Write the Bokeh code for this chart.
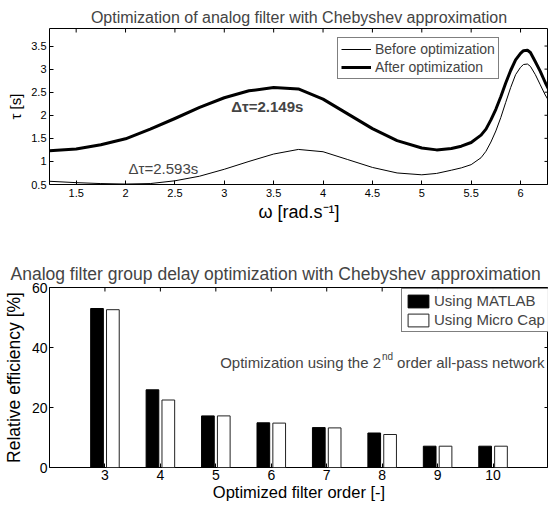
import math
from bokeh.plotting import figure
from bokeh.layouts import column
from bokeh.models import (FixedTicker, Range1d, Label,
                          ColumnDataSource, NumeralTickFormatter)
from bokeh.transform import dodge
from bokeh.embed import file_html
from bokeh.resources import INLINE

FONT = "Liberation Sans"

# ---------------- top chart data ----------------
omega = [1.23, 1.5, 1.75, 2.0, 2.25, 2.5, 2.75, 3.0, 3.25, 3.5, 3.75, 4.0,
         4.25, 4.5, 4.75, 5.0, 5.15, 5.3, 5.4, 5.5, 5.6, 5.65, 5.7, 5.75,
         5.8, 5.85, 5.9, 5.95, 6.0, 6.03, 6.07, 6.1, 6.15, 6.2, 6.25, 6.2832]
tau_before = [0.57, 0.54, 0.52, 0.51, 0.52, 0.58, 0.68, 0.83, 1.00, 1.16,
              1.26, 1.21, 1.04, 0.87, 0.75, 0.71, 0.74, 0.81, 0.86, 0.93,
              1.08, 1.22, 1.42, 1.66, 1.95, 2.28, 2.60, 2.88, 3.04, 3.10,
              3.11, 3.06, 2.88, 2.66, 2.44, 2.32]
tau_after = [1.23, 1.27, 1.36, 1.49, 1.70, 1.93, 2.17, 2.38, 2.53, 2.60,
             2.57, 2.35, 2.03, 1.71, 1.45, 1.29, 1.25, 1.28, 1.33, 1.41,
             1.57, 1.70, 1.90, 2.13, 2.40, 2.70, 2.97, 3.20, 3.34, 3.40,
             3.41, 3.36, 3.16, 2.95, 2.71, 2.57]
top_xrange = (1.23, 6.2832)
top_yrange = (0.5, 3.88)
top_xticks = [1.5, 2, 2.5, 3, 3.5, 4, 4.5, 5, 5.5, 6]
top_yticks = [0.5, 1, 1.5, 2, 2.5, 3, 3.5]

# ---------------- bottom chart data ----------------
orders = [3, 4, 5, 6, 7, 8, 9, 10]
eff_matlab = [53.0, 25.9, 17.2, 14.9, 13.3, 11.5, 7.1, 7.1]
eff_microcap = [52.6, 22.5, 17.2, 14.8, 13.2, 11.0, 7.1, 7.1]
bottom_xrange = (2, 11)
bottom_yrange = (0, 60)
bottom_yticks = [0, 20, 40, 60]


def style_main_axis(ax, tick_size, tick_standoff, label_size, standoff):
    ax.major_tick_in = 4
    ax.major_tick_out = 0
    ax.minor_tick_line_color = None
    ax.axis_line_color = None
    ax.major_tick_line_color = "black"
    ax.major_label_text_font = FONT
    ax.major_label_text_font_size = tick_size
    ax.major_label_text_color = "black"
    ax.major_label_standoff = tick_standoff
    ax.axis_label_text_font = FONT
    ax.axis_label_text_font_size = label_size
    ax.axis_label_text_font_style = "normal"
    ax.axis_label_text_color = "black"
    ax.axis_label_standoff = standoff


def add_box_ticks(p, xticks, yticks, xr, yr):
    # inward ticks on the top and right edges of the box
    p.ray(x=xticks, y=[yr[1]] * len(xticks), length=4, length_units="screen",
          angle=-math.pi / 2, line_color="black", line_width=1)
    p.ray(x=[xr[1]] * len(yticks), y=yticks, length=4, length_units="screen",
          angle=math.pi, line_color="black", line_width=1)


# ================= top figure =================
p1 = figure(width=548, height=256, x_range=Range1d(*top_xrange),
            y_range=Range1d(*top_yrange), output_backend="svg",
            toolbar_location=None, min_border_left=48, min_border_right=0,
            min_border_top=28, min_border_bottom=72)
p1.grid.grid_line_color = None
p1.outline_line_color = "black"
p1.outline_line_alpha = 1
p1.title.text = "Optimization of analog filter with Chebyshev approximation"
p1.title.text_font = FONT
p1.title.text_font_size = "16px"
p1.title.text_font_style = "normal"
p1.title.align = "center"
p1.title.standoff = 5

p1.line(omega, tau_before, line_color="black", line_width=1,
        legend_label="Before optimization")
p1.line(omega, tau_after, line_color="black", line_width=3,
        line_join="round", legend_label="After optimization")

p1.xaxis.ticker = FixedTicker(ticks=top_xticks)
p1.yaxis.ticker = FixedTicker(ticks=top_yticks)
p1.xaxis.formatter = NumeralTickFormatter(format="0.[0]")
p1.yaxis.formatter = NumeralTickFormatter(format="0.[0]")
p1.xaxis.axis_label = "ω [rad.s⁻¹]"
p1.yaxis.axis_label = "τ [s]"
style_main_axis(p1.xaxis[0], "11px", 4, "18px", 2)
style_main_axis(p1.yaxis[0], "11px", 3, "15px", 4)
add_box_ticks(p1, top_xticks, top_yticks, top_xrange, top_yrange)

p1.add_layout(Label(x=3.07, y=2.2, text="Δτ=2.149s", text_font=FONT,
                    text_font_size="15px", text_font_style="bold",
                    text_baseline="middle"))
p1.add_layout(Label(x=2.03, y=0.85, text="Δτ=2.593s", text_font=FONT,
                    text_font_size="15px", text_baseline="middle"))

lg1 = p1.legend[0]
lg1.location = (288, 105)
lg1.label_text_font = FONT
lg1.label_text_font_size = "14px"
lg1.label_standoff = 4
lg1.glyph_width = 30
lg1.glyph_height = 16
lg1.label_height = 16
lg1.spacing = 2
lg1.padding = 3
lg1.margin = 0
lg1.border_line_color = "black"
lg1.border_line_width = 1
lg1.background_fill_alpha = 1

# ================= bottom figure =================
p2 = figure(width=548, height=249, x_range=Range1d(*bottom_xrange),
            y_range=Range1d(*bottom_yrange), output_backend="svg",
            toolbar_location=None, min_border_left=48, min_border_right=0,
            min_border_top=31, min_border_bottom=38)
p2.grid.grid_line_color = None
p2.outline_line_color = "black"
p2.title.text = "Analog filter group delay optimization with Chebyshev approximation"
p2.title.text_font = FONT
p2.title.text_font_size = "17.5px"
p2.title.text_font_style = "normal"
p2.title.align = "left"
p2.title.offset = -39
p2.title.standoff = 7

src = ColumnDataSource(dict(order=orders, matlab=eff_matlab,
                            microcap=eff_microcap))
p2.vbar(x=dodge("order", -0.143), top="matlab", width=0.229, bottom=0,
        fill_color="black", line_color="black", source=src,
        legend_label="Using MATLAB")
p2.vbar(x=dodge("order", 0.143), top="microcap", width=0.229, bottom=0,
        fill_color="white", line_color="#222222", source=src,
        legend_label="Using Micro Cap")

p2.xaxis.ticker = FixedTicker(ticks=orders)
p2.yaxis.ticker = FixedTicker(ticks=bottom_yticks)
p2.xaxis.axis_label = "Optimized filter order [-]"
p2.yaxis.axis_label = "Relative efficiency [%]"
style_main_axis(p2.xaxis[0], "14px", 2, "16.5px", 0)
style_main_axis(p2.yaxis[0], "14px", 2, "17.5px", 5)
add_box_ticks(p2, orders, bottom_yticks, bottom_xrange, bottom_yrange)

note_x = 7.98
note_y = 35.1
p2.add_layout(Label(x=note_x, y=note_y, text="Optimization using the 2",
                    text_font=FONT, text_font_size="15px",
                    text_align="right", text_baseline="middle"))
p2.add_layout(Label(x=note_x, y=note_y, y_offset=6, x_offset=1, text="nd",
                    text_font=FONT, text_font_size="10px",
                    text_align="left", text_baseline="middle"))
p2.add_layout(Label(x=note_x, y=note_y, x_offset=16,
                    text="order all-pass network",
                    text_font=FONT, text_font_size="15px",
                    text_align="left", text_baseline="middle"))

lg2 = p2.legend[0]
lg2.location = (352, 135)
lg2.label_text_font = FONT
lg2.label_text_font_size = "15px"
lg2.label_standoff = 3
lg2.glyph_width = 26
lg2.glyph_height = 16
lg2.label_height = 16
lg2.spacing = 2
lg2.padding = 3
lg2.margin = 0
lg2.border_line_color = "black"
lg2.border_line_width = 1

layout = column(p1, p2, spacing=0)
open("out.html", "w").write(file_html(layout, INLINE))
